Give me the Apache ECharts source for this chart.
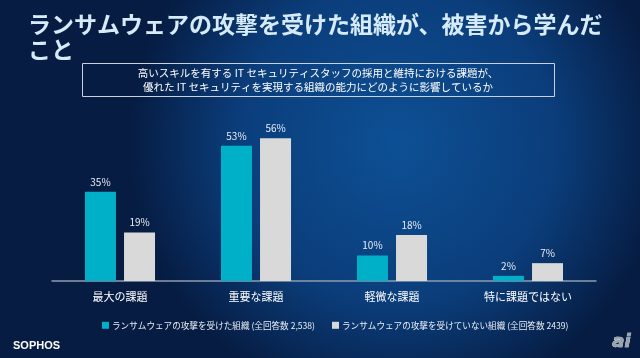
<!DOCTYPE html>
<html><head><meta charset="utf-8">
<script src="https://cdn.jsdelivr.net/npm/echarts@6/dist/echarts.min.js"></script>
<style>html,body{margin:0;padding:0;background:#0a2f63;}#c{width:640px;height:358px;}</style>
</head><body><div id="c"></div>
<script>
const categories = ['最大の課題', '重要な課題', '軽微な課題', '特に課題ではない'];
const attacked = [35, 53, 10, 2];
const notAttacked = [19, 56, 18, 7];
const seriesNames = ['ランサムウェアの攻撃を受けた組織 (全回答数 2,538)', 'ランサムウェアの攻撃を受けていない組織 (全回答数 2439)'];
const FONT = '"Noto Sans CJK JP", "Noto Sans", sans-serif';

const legendBase = {
  type: 'plain', top: 316, itemWidth: 7, itemHeight: 7, icon: 'rect',
  textStyle: {color: '#e8eef6', fontSize: 8.6, fontFamily: FONT, padding: [0, 0, 0, -2]}
};

const chart = echarts.init(document.getElementById('c'), null, {renderer: 'canvas'});
chart.setOption({
  backgroundColor: {
    type: 'radial', x: 0.62, y: 0.4, r: 0.75,
    colorStops: [{offset: 0, color: '#0d5095'}, {offset: 0.6, color: '#0b3d7a'}, {offset: 1, color: '#061c42'}]
  },
  animation: false,
  textStyle: {fontFamily: FONT},
  grid: {left: 52, right: 44, top: 128, bottom: 77},
  legend: [
    Object.assign({}, legendBase, {left: 97, data: [seriesNames[0]]}),
    Object.assign({}, legendBase, {left: 327, data: [seriesNames[1]]})
  ],
  xAxis: {
    type: 'category', data: categories,
    axisLine: {lineStyle: {color: '#8d9cb0', width: 1.5}},
    axisTick: {show: false},
    axisLabel: {color: '#ffffff', fontSize: 11, margin: 10, fontFamily: FONT}
  },
  yAxis: {type: 'value', min: 0, max: 60, show: false, splitLine: {show: false}},
  series: [
    {name: seriesNames[0], type: 'bar', data: attacked, barWidth: 31, barGap: '26%',
     itemStyle: {color: '#00afc8'},
     label: {show: true, position: 'top', distance: 5, formatter: '{c}%', color: '#e8eef6', fontSize: 10}},
    {name: seriesNames[1], type: 'bar', data: notAttacked, barWidth: 31,
     itemStyle: {color: '#d9d9d9'},
     label: {show: true, position: 'top', distance: 5, formatter: '{c}%', color: '#e8eef6', fontSize: 10}}
  ],
  graphic: [
    {type: 'text', left: 28, top: 12, style: {text: 'ランサムウェアの攻撃を受けた組織が、被害から学んだ\nこと', fill: '#d6ebf8', font: 'bold 23px ' + FONT, lineHeight: 25}},
    {type: 'rect', shape: {x: 82.5, y: 63.5, width: 472, height: 33}, style: {fill: 'rgba(0,0,0,0)', stroke: '#c8d2de', lineWidth: 1}},
    {type: 'text', x: 318, y: 80, style: {text: '高いスキルを有する IT セキュリティスタッフの採用と維持における課題が、\n優れた IT セキュリティを実現する組織の能力にどのように影響しているか', fill: '#ffffff', font: '10.5px ' + FONT, align: 'center', verticalAlign: 'middle', lineHeight: 14}},
    {type: 'text', left: 13, top: 340, style: {text: 'SOPHOS', fill: '#ffffff', font: 'bold 11px "Liberation Sans", sans-serif'}},
    {type: 'text', left: 612, top: 333, style: {text: 'ai', fill: '#9aa3ad', stroke: '#ffffff', lineWidth: 0.6, font: 'italic bold 18px "DejaVu Sans", sans-serif'}}
  ]
});
</script></body></html>
